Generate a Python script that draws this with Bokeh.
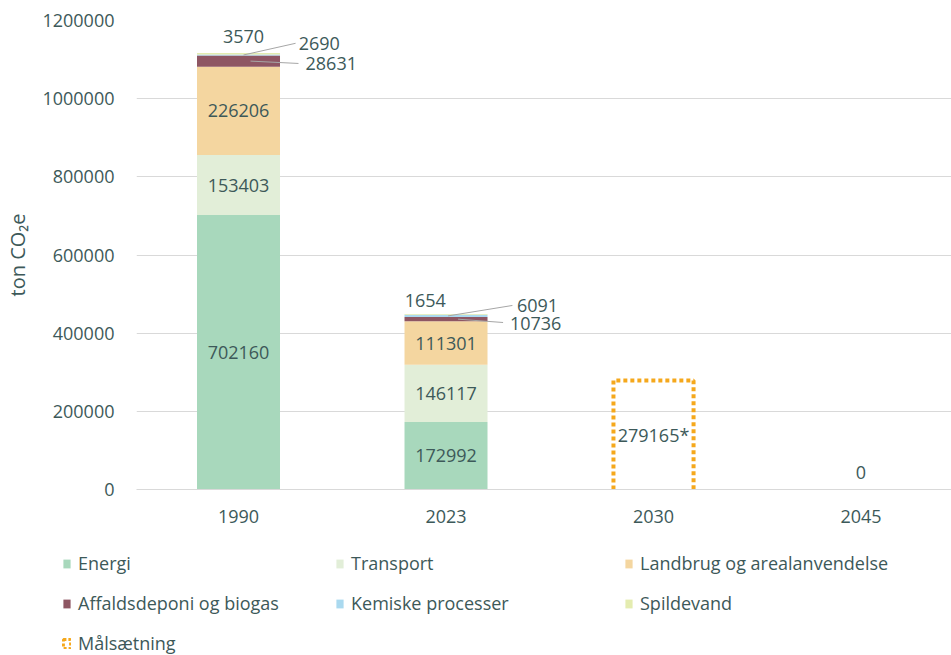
from bokeh.plotting import figure
from bokeh.models import Range1d, FixedTicker, Legend, LegendItem, ColumnDataSource, BasicTickFormatter
from bokeh.core.properties import value
from bokeh.embed import file_html
from bokeh.resources import INLINE

# ---------------- data ----------------
years = ["1990", "2023", "2030", "2045"]
sectors = ["Energi", "Transport", "Landbrug og arealanvendelse",
           "Affaldsdeponi og biogas", "Kemiske processer", "Spildevand"]
energi = [702160, 172992]
transport = [153403, 146117]
landbrug = [226206, 111301]
affald = [28631, 10736]
kemiske = [2690, 6091]
spildevand = [3570, 1654]
goal_label = "Målsætning"
goal_2030 = 279165
goal_2045 = 0
y_ticks = [0, 200000, 400000, 600000, 800000, 1000000, 1200000]

# ---------------- style ----------------
colors = ["#a8d8bc", "#e2eed8", "#f4d6a0", "#8e5663", "#aad9ef", "#e4ecb0"]
goal_color = "#f5a81c"
txt = "#3d5959"
font = value("Open Sans")
bar_w = 0.40
box_w = 0.386

p = figure(width=951, height=540, output_backend="svg", toolbar_location=None,
           x_range=Range1d(-0.4916, 3.4361), y_range=Range1d(0, 1200000),
           min_border_left=136, min_border_right=0, min_border_top=20,
           min_border_bottom=51)
p.outline_line_color = None
p.xgrid.grid_line_color = None
p.ygrid.grid_line_color = "#d9d9d9"
p.ygrid.ticker = FixedTicker(ticks=y_ticks)

p.yaxis.ticker = FixedTicker(ticks=y_ticks)
p.yaxis.formatter = BasicTickFormatter(use_scientific=False)
p.yaxis.axis_line_color = None
p.yaxis.major_tick_line_color = None
p.yaxis.minor_tick_line_color = None
p.yaxis.major_label_standoff = 16
p.yaxis.major_label_text_font = "Open Sans"
p.yaxis.major_label_text_font_size = "18px"
p.yaxis.major_label_text_color = txt
p.yaxis.axis_label = "ton CO₂e"
p.yaxis.axis_label_text_font = "Open Sans"
p.yaxis.axis_label_text_font_size = "20px"
p.yaxis.axis_label_text_font_style = "normal"
p.yaxis.axis_label_text_color = txt
p.yaxis.axis_label_standoff = 8

p.xaxis.ticker = FixedTicker(ticks=list(range(len(years))))
p.xaxis.major_label_overrides = {i: y for i, y in enumerate(years)}
p.xaxis.axis_line_color = "#d9d9d9"
p.xaxis.major_tick_line_color = None
p.xaxis.minor_tick_line_color = None
p.xaxis.major_label_standoff = 14
p.xaxis.major_label_text_font = "Open Sans"
p.xaxis.major_label_text_font_size = "18px"
p.xaxis.major_label_text_color = txt

# ---------------- stacked bars ----------------
series = [energi, transport, landbrug, affald, kemiske, spildevand]
src = ColumnDataSource(dict(x=[0, 1], **{s: v for s, v in zip(sectors, series)}))
p.vbar_stack(sectors, x="x", width=bar_w, source=src, color=colors, line_color=None)

# labels inside large segments
lx, ly, lt = [], [], []
for i in range(2):
    base = 0
    for s_i, vals in enumerate(series):
        v = vals[i]
        if s_i < 3:
            lx.append(i); ly.append(base + v / 2); lt.append(str(v))
        base += v
p.text(x=lx, y=ly, text=lt, text_align="center", text_baseline="middle",
       text_font=font, text_font_size="18px", text_color=txt)

# small segments: labels with leader lines (offsets are layout only)
top_dx = [0.024, -0.10]
top_dy_px = [-17, -14]
kem_start_dx = [0.024, 0.01]
kem_end = [(0.275, 25000), (0.32, 22000)]
kem_txt_dx = [0.29, 0.342]
aff_start_dx = [0.058, 0.058]
aff_end = [(0.289, -6000), (0.275, -8500)]
aff_txt_dx = [0.323, 0.308]
aff_txt_dy = [-6000, -11000]

sx0, sy0, sx1, sy1 = [], [], [], []
tx, ty, tt, toff = [], [], [], []
rx, ry, rt = [], [], []
for i in range(2):
    total = sum(v[i] for v in series)
    kem_mid = total - spildevand[i] - kemiske[i] / 2
    aff_mid = total - spildevand[i] - kemiske[i] - affald[i] / 2
    tx.append(i + top_dx[i]); ty.append(total); tt.append(str(spildevand[i])); toff.append(top_dy_px[i])
    sx0.append(i + kem_start_dx[i]); sy0.append(kem_mid)
    sx1.append(i + kem_end[i][0]); sy1.append(total + kem_end[i][1])
    rx.append(i + kem_txt_dx[i]); ry.append(total + kem_end[i][1]); rt.append(str(kemiske[i]))
    sx0.append(i + aff_start_dx[i]); sy0.append(aff_mid)
    sx1.append(i + aff_end[i][0]); sy1.append(aff_mid + aff_end[i][1])
    rx.append(i + aff_txt_dx[i]); ry.append(aff_mid + aff_txt_dy[i]); rt.append(str(affald[i]))

p.segment(x0=sx0, y0=sy0, x1=sx1, y1=sy1, line_color="#a6a6a6", line_width=1)
p.text(x=tx, y=ty, text=tt, y_offset=toff, text_align="center", text_baseline="middle",
       text_font=font, text_font_size="18px", text_color=txt)
p.text(x=rx, y=ry, text=rt, text_align="left", text_baseline="middle",
       text_font=font, text_font_size="18px", text_color=txt)

# ---------------- goal (open box: left, top, right sides) ----------------
gx = 2
p.line(x=[gx - box_w / 2, gx - box_w / 2, gx + box_w / 2, gx + box_w / 2],
       y=[0, goal_2030, goal_2030, 0], line_color=goal_color, line_width=4,
       line_dash="4 3")
p.text(x=[gx], y=[goal_2030 / 2], text=[f"{goal_2030}*"], text_align="center",
       text_baseline="middle", text_font=font, text_font_size="18px", text_color=txt)
p.text(x=[3], y=[goal_2045], text=[str(goal_2045)], y_offset=-17, text_align="center",
       text_baseline="middle", text_font=font, text_font_size="18px", text_color=txt)

# ---------------- legend (separate root below the chart) ----------------
lf = figure(width=951, height=115, output_backend="svg", toolbar_location=None,
            x_range=Range1d(0, 1), y_range=Range1d(0, 1), min_border=0,
            x_axis_location=None, y_axis_location=None)
lf.grid.visible = False
lf.outline_line_color = None
leg_r = []
for c in colors:
    r = lf.vbar(x=[0.5], top=[1], width=1, fill_color=c, line_color=None)
    r.visible = False
    leg_r.append(r)
goal_r = lf.vbar(x=[0.5], top=[1], width=1, fill_color=None, line_color=goal_color,
                 line_width=3, line_dash="3 2")
goal_r.visible = False

def add_legend(label, rend, vx, vy):
    lg = Legend(items=[LegendItem(label=label, renderers=[rend])], location=(vx, vy),
                orientation="vertical", padding=0, margin=0, spacing=0, label_height=20,
                glyph_width=9, glyph_height=11, label_standoff=7,
                label_text_font="Open Sans", label_text_font_size="18px",
                label_text_color=txt, border_line_color=None,
                background_fill_alpha=0)
    lf.add_layout(lg, "center")

cols_x = [62, 335, 624]
rows_vy = [80, 40, 0]
add_legend(sectors[0], leg_r[0], cols_x[0], rows_vy[0])
add_legend(sectors[1], leg_r[1], cols_x[1], rows_vy[0])
add_legend(sectors[2], leg_r[2], cols_x[2], rows_vy[0])
add_legend(sectors[3], leg_r[3], cols_x[0], rows_vy[1])
add_legend(sectors[4], leg_r[4], cols_x[1], rows_vy[1])
add_legend(sectors[5], leg_r[5], cols_x[2], rows_vy[1])
add_legend(goal_label, goal_r, cols_x[0], rows_vy[2])

open("out.html", "w").write(file_html([p, lf], INLINE))
